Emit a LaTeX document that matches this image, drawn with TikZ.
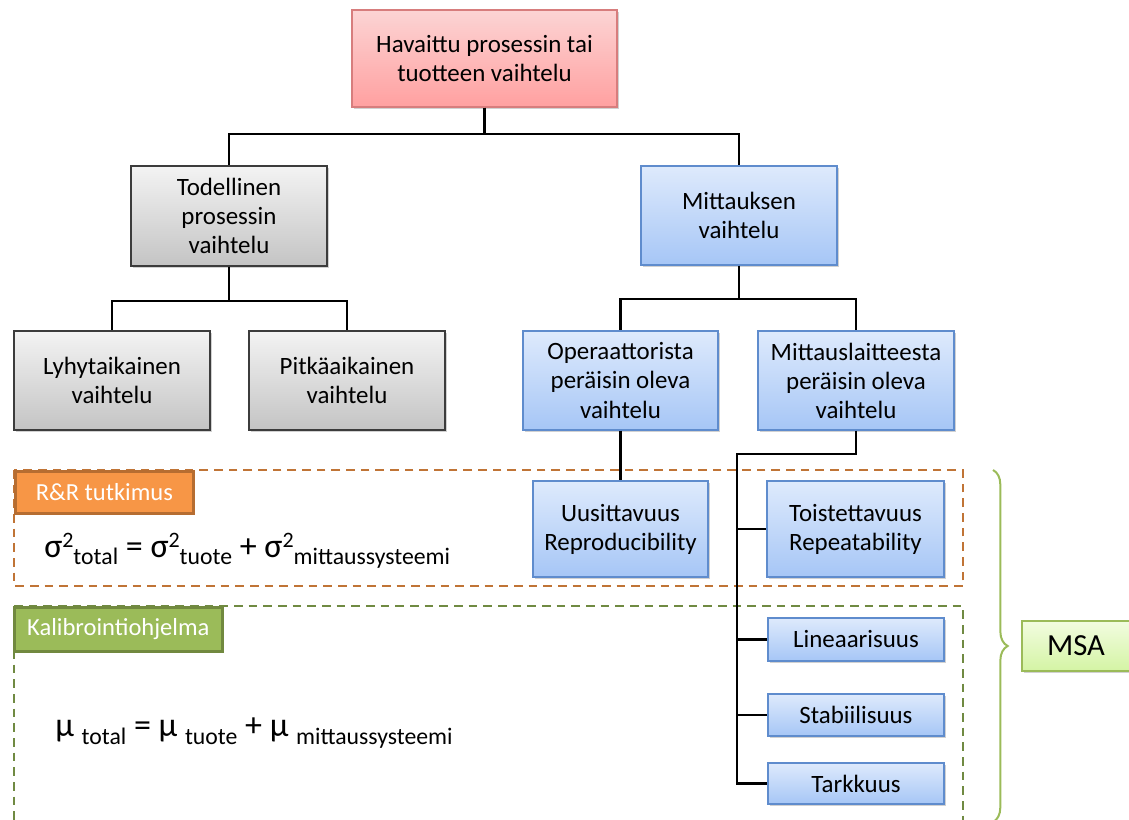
\documentclass[tikz,border=0pt]{standalone}
\usepackage{fontspec}
\setmainfont{Carlito}
\usetikzlibrary{shadows,decorations.pathreplacing,calc}

\definecolor{blueline}{RGB}{95,140,205}
\definecolor{bluetop}{RGB}{222,234,252}
\definecolor{bluebot}{RGB}{166,198,246}
\definecolor{graytop}{RGB}{243,243,243}
\definecolor{graybot}{RGB}{196,196,196}
\definecolor{grayline}{RGB}{60,60,60}
\definecolor{pinktop}{RGB}{252,212,212}
\definecolor{pinkbot}{RGB}{255,160,160}
\definecolor{pinkline}{RGB}{215,125,125}
\definecolor{greentop}{RGB}{242,252,224}
\definecolor{greenbot}{RGB}{212,244,164}
\definecolor{msaline}{RGB}{155,187,89}
\definecolor{rrfill}{RGB}{247,150,70}
\definecolor{rrline}{RGB}{182,109,49}
\definecolor{rrdash}{RGB}{192,116,54}
\definecolor{kalfill}{RGB}{155,187,89}
\definecolor{kalline}{RGB}{113,137,63}
\definecolor{kaldash}{RGB}{112,138,66}

\newcommand{\pxu}{0.75pt}
\newcommand{\subtxt}[1]{\raisebox{-0.45ex}{\fontsize{17.8}{20}\selectfont #1}}
\newcommand{\suptxt}[1]{\raisebox{0.6ex}{\fontsize{16.5}{18}\selectfont #1}}

\tikzset{
  basebox/.style={rectangle, line width=0.9pt, align=center, inner sep=2pt,
    font=\fontsize{18.7}{21.8}\selectfont, shading=axis,
    drop shadow={shadow xshift=1.2pt, shadow yshift=-1.5pt, opacity=0.3, fill=black!60}},
  bluebox/.style={basebox, draw=blueline, top color=bluetop, bottom color=bluebot},
  graybox/.style={basebox, draw=grayline, top color=graytop, bottom color=graybot},
  pinkbox/.style={basebox, draw=pinkline, top color=pinktop, bottom color=pinkbot},
  msabox/.style={basebox, draw=msaline, top color=greentop, bottom color=greenbot,
    font=\fontsize{23}{26}\selectfont},
  tagbox/.style={rectangle, line width=2pt, text=white, anchor=north west,
    font=\fontsize{18.4}{21}\selectfont, inner sep=0pt},
  conn/.style={line width=1.6pt, black},
  zone/.style={line width=2pt, dash pattern=on 6.5pt off 4.5pt},
}

\begin{document}
\begin{tikzpicture}[x=\pxu, y=-\pxu]
\useasboundingbox (0,0) rectangle (1129,819);
\clip (0,0) rectangle (1129,819);

% measurement zones
\draw[zone, draw=rrdash] (14,470) rectangle (963,586);
\draw[zone, draw=kaldash] (14,606) -- (963,606) -- (963,830);
\draw[zone, draw=kaldash] (14,606) -- (14,830);

\node[tagbox, fill=rrfill, draw=rrline, minimum width=178*\pxu, minimum height=42*\pxu]
  (rr) at (14,470) {R\&R tutkimus};
\node[tagbox, fill=kalfill, draw=kalline, minimum width=208*\pxu, minimum height=44*\pxu]
  (kal) at (13,606) {Kalibrointiohjelma};

% formulas
\node[anchor=west, inner sep=0pt, font=\fontsize{25.5}{28}\selectfont] (fsig) at (44,551)
  {σ\suptxt{2}\subtxt{total} = σ\suptxt{2}\subtxt{tuote} + σ\suptxt{2}\subtxt{mittaussysteemi}};
\node[anchor=west, inner sep=0pt, font=\fontsize{25.5}{28}\selectfont] (fmu) at (55,733)
  {μ \subtxt{total} = μ \subtxt{tuote} + μ \subtxt{mittaussysteemi}};

% hierarchy boxes
\node[pinkbox, minimum width=265*\pxu, minimum height=97*\pxu] (top) at (484.5,58.5)
  {Havaittu prosessin tai\\tuotteen vaihtelu};
\node[graybox, minimum width=196*\pxu, minimum height=100*\pxu] (tod) at (229,216)
  {Todellinen\\prosessin\\vaihtelu};
\node[bluebox, minimum width=196*\pxu, minimum height=99*\pxu] (mit) at (739,215.5)
  {Mittauksen\\vaihtelu};
\node[graybox, minimum width=196*\pxu, minimum height=99*\pxu] (lyh) at (112,380.5)
  {Lyhytaikainen\\vaihtelu};
\node[graybox, minimum width=196*\pxu, minimum height=99*\pxu] (pit) at (347,380.5)
  {Pitkäaikainen\\vaihtelu};
\node[bluebox, minimum width=195*\pxu, minimum height=99*\pxu] (ope) at (620.5,380.5)
  {Operaattorista\\peräisin oleva\\vaihtelu};
\node[bluebox, minimum width=196*\pxu, minimum height=99*\pxu] (mla) at (856,380.5)
  {Mittauslaitteesta\\peräisin oleva\\vaihtelu};
\node[bluebox, minimum width=175*\pxu, minimum height=96*\pxu] (uus) at (620.5,529)
  {Uusittavuus\\Reproducibility};
\node[bluebox, minimum width=177*\pxu, minimum height=96*\pxu] (toi) at (855.5,529)
  {Toistettavuus\\Repeatability};
\node[bluebox, minimum width=176*\pxu, minimum height=43*\pxu] (lin) at (856,639.5)
  {Lineaarisuus};
\node[bluebox, minimum width=176*\pxu, minimum height=42*\pxu] (sta) at (856,715)
  {Stabiilisuus};
\node[bluebox, minimum width=176*\pxu, minimum height=41*\pxu] (tar) at (856,783.5)
  {Tarkkuus};
\node[msabox, minimum width=108*\pxu, minimum height=50*\pxu] (msa) at (1076,646)
  {MSA};

% connectors
\draw[conn] (top.south) -- ++(0,26) -| (tod.north);
\draw[conn] (top.south) -- ++(0,26) -| (mit.north);
\draw[conn] (tod.south) -- ++(0,34) -| (lyh.north);
\draw[conn] (tod.south) -- ++(0,34) -| (pit.north);
\draw[conn] (mit.south) -- ++(0,33) -| (ope.north);
\draw[conn] (mit.south) -- ++(0,33) -| (mla.north);
\draw[conn] (ope.south) -- (uus.north);

\coordinate (spine) at (737,454);
\draw[conn] (mla.south) |- (spine) -- (spine |- tar.west) -- (tar.west);
\draw[conn] (spine |- toi.west) -- (toi.west);
\draw[conn] (spine |- lin.west) -- (lin.west);
\draw[conn] (spine |- sta.west) -- (sta.west);

% MSA brace
\coordinate (brtop) at (993,470);
\coordinate (brbot) at (993,822);
\draw[msaline, line width=1.5pt, decorate,
  decoration={brace, amplitude=11pt, aspect=0.5}] (brtop) -- (brbot);
\end{tikzpicture}
\end{document}
